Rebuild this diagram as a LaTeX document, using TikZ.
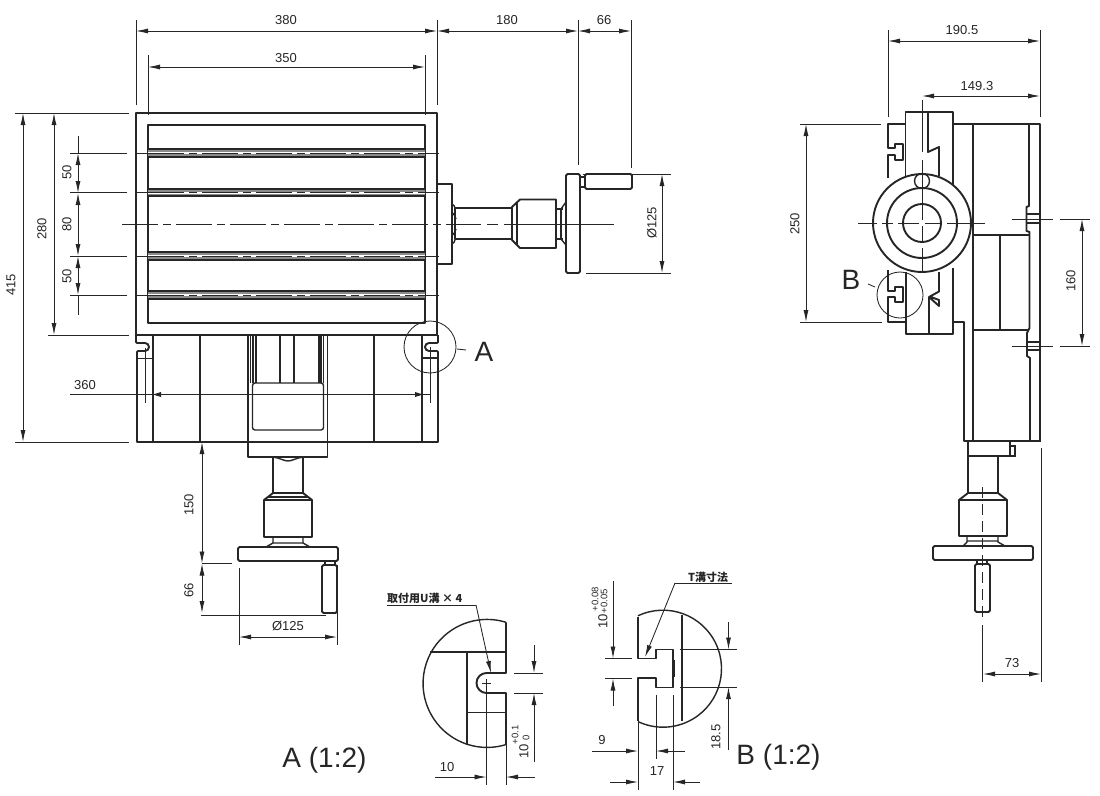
\documentclass[tikz,border=0pt]{standalone}
\usepackage{fontspec}
\setmainfont{Liberation Sans}
\newfontfamily\cjk{Noto Sans CJK JP}
\usetikzlibrary{arrows.meta}
\definecolor{ink}{HTML}{262626}
\tikzset{
  thk/.style={draw=ink,line width=1.9pt,line join=round},
  med/.style={draw=ink,line width=1.4pt},
  thn/.style={draw=ink,line width=0.85pt},
  dimline/.style={draw=ink,line width=0.85pt,arrows={Latex[length=12pt,width=5pt]-Latex[length=12pt,width=5pt]}},
  dimto/.style={draw=ink,line width=0.85pt,arrows={-Latex[length=12pt,width=5pt]}},
  centre/.style={draw=ink,line width=0.85pt,dash pattern=on 36pt off 5pt on 8pt off 5pt},
  dashline/.style={draw=ink,line width=0.85pt,dash pattern=on 11pt off 6pt},
  lbl/.style={font=\fontsize{13}{13}\selectfont,text=ink,inner sep=0pt},
  big/.style={font=\fontsize{28}{28}\selectfont,text=ink,inner sep=0pt},
  tol/.style={font=\fontsize{9.5}{9.5}\selectfont,text=ink,inner sep=0pt,rotate=90},
  cjkl/.style={font=\cjk\bfseries\fontsize{11}{11}\selectfont,text=ink,inner sep=0pt},
}
\newcommand{\slotband}[2]{%
  \fill[black!45] (148,#1) rectangle (425,#2);
  \fill[white] (148,{(#1+#2)/2-1}) rectangle (425,{(#1+#2)/2+1});
  \draw[thk] (148,#1) -- (425,#1);
  \draw[thk] (148,#2) -- (425,#2);
  \draw[centre] (148,{(#1+#2)/2}) -- (425,{(#1+#2)/2});
  \draw[thn] (70,{(#1+#2)/2}) -- (127,{(#1+#2)/2}) (135,{(#1+#2)/2}) -- (148,{(#1+#2)/2}) (425,{(#1+#2)/2}) -- (439,{(#1+#2)/2});
}
\begin{document}
\begin{tikzpicture}[x=1pt,y=-1pt]
\useasboundingbox (0,0) rectangle (1100,795);
\fill[white] (0,0) rectangle (1100,795);

% ---------- main view: table ----------
\draw[thk] (136,113) rectangle (437,335);
\draw[thk] (148,125) rectangle (425,323);
\slotband{149}{157}
\slotband{189}{196}
\slotband{252}{260}
\slotband{291}{299}
\draw[centre] (122,224) -- (470,224);
\draw[dashline] (470,224) -- (510,224);
\draw[thn] (510,224) -- (614,224);

% lower block
\draw[thk] (136,335) -- (136,342) -- (137,343) -- (145,343) arc (-90:90:4) -- (138,351) -- (137,352) -- (137,442) -- (438,442) -- (438,352) -- (437,351) -- (429,351) arc (90:270:4) -- (437,343) -- (438,342) -- (438,335);
\draw[med] (137,358.500) -- (153,358.500) (422,358) -- (438,358);
\draw[med] (153,335) -- (153,442) (422,335) -- (422,442) (200,335) -- (200,442) (374,335) -- (374,442);
\draw[thk] (248,335) -- (248,457) -- (327.500,457) -- (327.500,335);
\draw[med] (250.700,335) -- (250.700,383) (253,335) -- (253,383) (256,335) -- (256,383);
\draw[med] (319,335) -- (319,383) (321,335) -- (321,383) (323.500,335) -- (323.500,383);
\draw[med] (280,335) -- (280,383) (294,335) -- (294,383);
\draw[med,rounded corners=2.5pt] (252.500,383) -- (252.500,430) -- (323.500,430) -- (323.500,383) -- cycle;

% 360 dimension
\draw[thn] (145,348) -- (145,403) (430,347) -- (430,403);
\draw[thn] (70,394.500) -- (430,394.500);
\fill[ink] (153,394.500) -- (161,392) -- (161,397) -- cycle;
\fill[ink] (423,394.500) -- (415,392) -- (415,397) -- cycle;
\node[lbl] (t360) at (85,385) {360};

% ---------- main view: right handle ----------
\draw[thk] (437,184) -- (452,184) -- (452,264) -- (437,264);
\draw[med] (452,204) .. controls (456,206) and (455,210) .. (455,214) (452,244) .. controls (456,242) and (455,238) .. (455,234);
\draw[med] (452,213) .. controls (454,213) and (455,217) .. (456,219) (452,235) .. controls (454,235) and (455,231) .. (456,229);
\draw[thk] (455,208) rectangle (512,239);
\draw[thk] (512,207) -- (520,199.500) -- (556,199.500) -- (556,248) -- (520,248) -- (512,240) -- cycle;
\draw[med] (517,203) -- (517,245);
\draw[med] (556,209) -- (563,209) (556,239) -- (563,239) (561,209) -- (561,239);
\draw[med] (561,209) -- (566,202) (561,239) -- (566,245);
\draw[thk,rounded corners=1.500pt] (566,174) rectangle (580,273);
\draw[med] (580,177) -- (585,177) -- (585,187) -- (580,187);
\draw[thk,rounded corners=1.500pt] (585,174) rectangle (632,189);

% Ø125 right
\draw[thn] (583,174) -- (671,174) (586,273) -- (671,273);
\draw[dimline] (662,174) -- (662,273);
\node[lbl,rotate=90] (tphia) at (652,223) {Ø125};

% top dims main
\draw[thn] (136,20) -- (136,105) (437,20) -- (437,105) (578,20) -- (578,165) (631,20) -- (631,168);
\draw[thn] (148,55) -- (148,115) (425,55) -- (425,115);
\draw[dimline] (136,31) -- (437,31);
\draw[dimline] (437,31) -- (578,31);
\draw[dimline] (578,31) -- (631,31);
\draw[dimline] (148,67) -- (425,67);
\node[lbl] (t380) at (286,20) {380};
\node[lbl] (t350) at (286,58) {350};
\node[lbl] (t180) at (507,20) {180};
\node[lbl] (t66a) at (604,20) {66};

% left dims
\draw[thn] (15,113) -- (129,113) (15,442) -- (129,442) (48,335) -- (129,335);
\draw[dimline] (23,113) -- (23,442);
\draw[dimline] (54,113) -- (54,335);
\draw[dimline] (78,153) -- (78,193);
\draw[dimline] (78,193) -- (78,256);
\draw[dimline] (78,256) -- (78,295);
\draw[thn] (78,136) -- (78,153) (78,295) -- (78,315);
\node[lbl,rotate=90] (t415) at (11,285) {415};
\node[lbl,rotate=90] (t280) at (42,229) {280};
\node[lbl,rotate=90] (t50a) at (67,172) {50};
\node[lbl,rotate=90] (t80) at (67,224) {80};
\node[lbl,rotate=90] (t50b) at (67,276) {50};

% circle A
\draw[thn] (430,347) circle (26);
\draw[thn] (457,349) -- (466,350);
\node[big] (tA) at (484,352) {A};

% ---------- main view: lower handle ----------
\draw[med] (273,457) .. controls (280,458) and (284,461) .. (288,461) .. controls (292,461) and (296,458) .. (303,457);
\draw[thk] (273,457) rectangle (303,493);
\draw[thk] (273,493) -- (264,500) -- (264,537) -- (312,537) -- (312,500) -- (303,493);
\draw[med] (264,500) -- (312,500) (268,497) -- (308,497);
\draw[med] (273,537) -- (273,543) -- (266,547) (303,537) -- (303,543) -- (310,547) (273,543) -- (303,543);
\draw[thk,rounded corners=1.500pt] (238,547) rectangle (338,561);
\draw[med] (325,561) -- (325,565) (335,561) -- (335,565);
\draw[thk,rounded corners=1.500pt] (322,565) rectangle (337,613);

% dims under
\draw[thn] (202,563.500) -- (232,563.500) (201,615) -- (326,615);
\draw[thn] (239,568) -- (239,645) (337,565) -- (337,645);
\draw[dimline] (202,442) -- (202,563.500);
\draw[dimline] (202,563.500) -- (202,613);
\draw[dimline] (239,637) -- (337,637);
\node[lbl,rotate=90] (t150) at (189,505) {150};
\node[lbl,rotate=90] (t66b) at (189,590) {66};
\node[lbl] (tphib) at (288,626) {Ø125};

% ---------- right view ----------
\draw[thk] (905,124) -- (888,124) -- (888,148) -- (895,148) -- (895,144) -- (903,144) -- (903,160) -- (895,160) -- (895,155) -- (888,155) -- (888,178);
\draw[thk] (888,270) -- (888,291) -- (895,291) -- (895,287) -- (903,287) -- (903,302) -- (895,302) -- (895,297) -- (888,297) -- (888,322) -- (906,322);
\draw[thk] (905.500,178) -- (905.500,112) -- (953,112) -- (953,190);
\draw[thk] (906,272) -- (906,334) -- (953,334) -- (953,268);
\draw[thk] (928,112) -- (928,152) -- (939,147) -- (939,176);
\draw[thk] (939,272) -- (939,291.500) -- (929,297) -- (939,306) -- (939,300) -- (931,297);
\draw[thk] (929,297) -- (929,334);
\draw[thk] (953,124) -- (1040,124) -- (1040,441);
\draw[thk] (973,124) -- (973,441);
\draw[thk] (973,235) -- (1029,235) (973,330) -- (1029,330) (1000,235) -- (1000,330);
\draw[thk] (1029,124) -- (1029,206) -- (1026.500,207) -- (1026.500,231) -- (1029.500,232) -- (1029.500,328) -- (1027,333) -- (1027,356) -- (1030,358) -- (1030,441);
\draw[med] (1027,214) -- (1040,214) (1027,223) -- (1040,223) (1027,342) -- (1040,342) (1027,350) -- (1040,350);
\draw[thk] (953,322) -- (964,322) -- (964,441) -- (1041,441);
\fill[white] (922,223) circle (49);
\draw[thk] (922,223) circle (49);
\draw[thk] (922,223) circle (35);
\draw[thk] (922,223) circle (19);
\draw[med] (922,181) circle (7.500);
% centre marks
\draw[thn] (858,223) -- (877,223) (882,223) -- (893,223) (898,223) -- (919,223) (925,223) -- (942,223) (947,223) -- (985,223);
\draw[thn] (922,100) -- (922,152) (922,160) -- (922,220) (922,226) -- (922,243) (922,248) -- (922,272);
\draw[thn] (1012,219) -- (1053,219) (1060,219) -- (1090,219) (1012,346) -- (1053,346) (1060,346) -- (1090,346);
\draw[thn] (900,295) circle (23);
\draw[thn] (868,284) -- (875,287);
\node[big] (tB) at (851,280) {B};

% right lower
\draw[thk] (968,441) -- (968,456) -- (1010,456) -- (1010,441);
\draw[med] (1010,446) -- (1015,446) -- (1015,456) -- (1010,456);
\draw[thk] (968,456) -- (968,493) (998,456) -- (998,493);
\draw[thk] (968,493) -- (998,493);
\draw[thk] (968,493) -- (959,500) -- (959,536) -- (1007,536) -- (1007,500) -- (998,493);
\draw[med] (959,500) -- (1007,500);
\draw[med] (967,536) -- (967,542) -- (963,546) (998,536) -- (998,542) -- (1005,546) (967,541) -- (998,541);
\draw[thk,rounded corners=1.500pt] (933,546) rectangle (1033,560);
\draw[med] (977,560) -- (977,565) (987,560) -- (987,565);
\draw[thk,rounded corners=1.500pt] (975,564) rectangle (990,612);
\draw[dashline] (982.500,487) -- (982.500,618);
\draw[thn] (982.500,625) -- (982.500,682) (1041,448) -- (1041,682);
\draw[dimline] (983,674) -- (1041,674);
\node[lbl] (t73) at (1012,663) {73};

% right view dims
\draw[thn] (888,30) -- (888,117) (1040,30) -- (1040,117);
\draw[dimline] (888,41) -- (1040,41);
\draw[dimline] (922,96) -- (1040,96);
\draw[thn] (800,124) -- (881,124) (800,322) -- (882,322);
\draw[dimline] (806,124) -- (806,322);
\draw[dimline] (1082,219) -- (1082,346);
\node[lbl] (t190) at (962,30) {190.5};
\node[lbl] (t149) at (977,86) {149.3};
\node[lbl,rotate=90] (t250) at (795,224) {250};
\node[lbl,rotate=90] (t160) at (1071,281) {160};

% ---------- detail A ----------
\draw[med] (506,622.300) arc (-72.800:-287.700:64);
\draw[thk] (506,622.300) -- (506,673) -- (486.500,673) arc (-90:-270:10) -- (506,693) -- (506,744.500);
\draw[med] (430,652) -- (506,652) (467,652) -- (467,745) (467,712.500) -- (506,712.500);
\draw[thn] (482,683) -- (491,683) (486.500,679) -- (486.500,785);
\draw[thn] (506,693) -- (506,785);
\draw[thn] (514,673) -- (543,673) (514,693) -- (543,693);
\draw[dimto] (534,645) -- (534,673);
\draw[dimto] (534,762) -- (534,693);
\draw[dimto] (435,777) -- (486.500,777);
\draw[dimto] (535,777) -- (506,777);
\draw[thn] (387,605) -- (476,605);
\draw[thn,arrows={-Latex[length=12pt,width=5pt]}] (476,605) -- (491,673);
\node[cjkl,anchor=west] (tU) at (387,598.500) {取付用U溝 × 4};
\node[lbl] (t10a) at (447,767) {10};
\node[lbl,rotate=90] (t10b) at (524,751) {10};
\node[tol] (t10c) at (515,735) {+0.1};
\node[tol] (t10d) at (526,738) {0};
\node[big] (tAs) at (324.500,760) {A (1:2)};

% ---------- detail B ----------
\draw[med] (638,615.800) arc (-115.300:115.300:58.500);
\draw[thk] (638,617) -- (638,658.500) -- (656,658.500) -- (656,649.500) -- (673,649.500) -- (673,687.500) -- (656,687.500) -- (656,678) -- (638,678) -- (638,721);
\draw[thk] (674,660) -- (674,677);
\draw[med] (682,615) -- (682,721);
\draw[thn] (680,649.500) -- (737,649.500) (680,687) -- (737,687);
\draw[dimto] (728.500,622) -- (728.500,649.500);
\draw[dimto] (728.500,750) -- (728.500,687);
\draw[thn] (605,658.500) -- (632,658.500) (605,678.500) -- (632,678.500);
\draw[dimto] (613,581) -- (613,658.500);
\draw[dimto] (613,706) -- (613,678.500);
\draw[thn] (656,695) -- (656,759) (673,695) -- (673,790) (638,722) -- (638,790);
\draw[dimto] (592,751) -- (638,751);
\draw[dimto] (685,751) -- (656,751);
\draw[dimto] (610,782) -- (638,782);
\draw[dimto] (700,782) -- (673,782);
\draw[thn] (675,583) -- (732,583);
\draw[thn,arrows={-Latex[length=12pt,width=5pt]}] (675,583) -- (645,657);
\node[cjkl,anchor=west] (tT) at (688,577) {T溝寸法};
\node[lbl] (t9) at (602,740) {9};
\node[lbl] (t17) at (657,771) {17};
\node[lbl,rotate=90] (t185) at (716,737) {18.5};
\node[lbl,rotate=90] (t10e) at (603,621) {10};
\node[tol] (t10f) at (595,599) {+0.08};
\node[tol] (t10g) at (604,601) {+0.05};
\node[big] (tBs) at (778.500,757) {B (1:2)};
\end{tikzpicture}
\end{document}
